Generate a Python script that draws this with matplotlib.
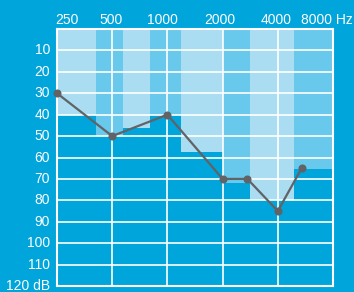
import matplotlib
matplotlib.use("Agg")
import matplotlib.pyplot as plt
from matplotlib import transforms

# audiogram data
freq_ticks = [250, 500, 1000, 2000, 4000, 8000]
freq_labels = ["250", "500", "1000", "2000", "4000", "8000 Hz"]
db_ticks = [10, 20, 30, 40, 50, 60, 70, 80, 90, 100, 110, 120]
db_labels = ["10", "20", "30", "40", "50", "60", "70", "80", "90", "100", "110", "120 dB"]

# shaded bands (speech banana style), edges in Hz, depth in dB
band_edges = [250, 408, 500, 571, 800, 1000, 1180, 2000, 2810, 4000, 4930, 8000]
band_depth = [40, 50, 50, 46, 40, 40, 57.5, 72, 80, 80, 65.5]
band_tone = ["light", "mid", "mid", "light", "mid", "mid", "light", "mid", "light", "light", "mid"]

# measured thresholds
point_freq = [250, 500, 1000, 2000, 2730, 4000, 5400]
point_db = [30, 50, 40, 70, 70, 85, 65]

BG = "#00a5db"
TONES = {"light": "#aadcf2", "mid": "#68c9ec"}

fig = plt.figure(figsize=(3.54, 2.92), dpi=100, facecolor=BG)
ax = fig.add_axes([57 / 354, 1 - 286 / 292, 276 / 354, 257 / 292])
ax.set_facecolor(BG)
ax.set_xscale("log", base=2)
ax.set_xlim(250, 8000)
ax.set_ylim(120, 0)

for i, depth in enumerate(band_depth):
    ax.fill_between([band_edges[i], band_edges[i + 1]], 0, depth,
                    color=TONES[band_tone[i]], lw=0, zorder=1)

for f in freq_ticks:
    ax.axvline(f, color="white", lw=1.2, zorder=2)
for d in [0] + db_ticks:
    ax.axhline(d, color="white", lw=1.2, zorder=2)

for s in ax.spines.values():
    s.set_color("white")
    s.set_linewidth(1.5)
    s.set_zorder(2)

ax.plot(point_freq, point_db, color="#616366", lw=1.6, marker="o",
        markersize=4.8, zorder=3, clip_on=False)

ax.set_xticks([])
ax.set_yticks([])

font = ["Liberation Sans", "DejaVu Sans"]

# frequency labels above the grid
x_shift = [10, -1, -5, -3, -2, -6]
for f, lab, dx in zip(freq_ticks, freq_labels, x_shift):
    tr = transforms.offset_copy(ax.get_xaxis_transform(), fig=fig, x=dx, y=9, units="dots")
    ax.text(f, 1.0, lab, transform=tr, ha="center", va="center",
            color="white", fontsize=10, family=font)

# level labels on the left
for d, lab in zip(db_ticks, db_labels):
    tr = transforms.offset_copy(ax.get_yaxis_transform(), fig=fig, x=-7, y=0, units="dots")
    ax.text(0, d, lab, transform=tr, ha="right", va="center",
            color="white", fontsize=10, family=font)

fig.savefig("out.png", dpi=100, facecolor=BG)
